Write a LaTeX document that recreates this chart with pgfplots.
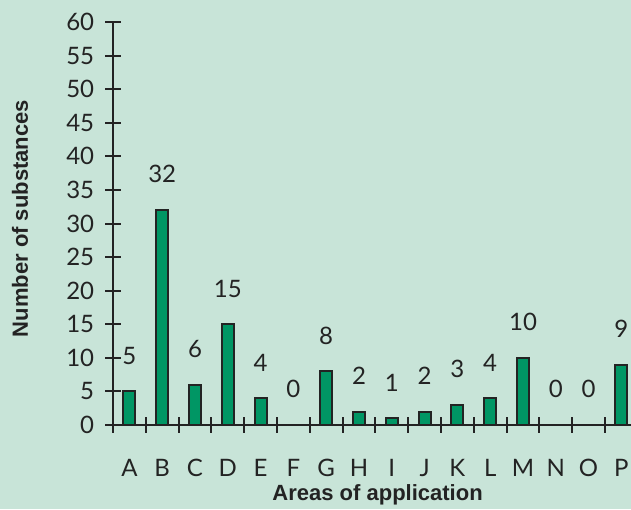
\documentclass[border=0pt]{standalone}
\usepackage{pgfplots}
\pgfplotsset{compat=1.18}
\usepackage{fontspec}
\setmainfont{Lato}
\newfontfamily\labelfont{Liberation Sans}
\definecolor{bg}{RGB}{200,228,216}
\definecolor{barc}{RGB}{0,150,100}
\definecolor{ink}{RGB}{35,35,35}
\begin{document}
\begin{tikzpicture}
\fill[bg] (-64.7pt,-42pt) rectangle (250.8pt,212.5pt);
\path[use as bounding box] (-64.7pt,-42pt) rectangle (250.8pt,212.5pt);
\begin{axis}[
  anchor=origin, at={(0pt,0pt)},
  x=16.4pt, y=3.358pt,
  xmin=-0.5, xmax=15.3, ymin=0, ymax=60,
  /pgf/number format/assume math mode=true,
  axis lines=left,
  axis line style={ink, line width=1pt, -},
  every tick/.style={ink, line width=1pt},
  tick align=center,
  major tick length=7.8pt,
  ytick={0,5,...,60},
  xtick={-0.5,0.5,...,14.5},
  xticklabels={},
  extra x ticks={0,1,...,15},
  extra x tick labels={A,B,C,D,E,F,G,H,I,J,K,L,M,N,O,P},
  extra x tick style={major tick length=0pt, xticklabel style={yshift=-13.5pt}},
  tick label style={font=\fontsize{12}{14}\selectfont, text=ink},
  yticklabel style={xshift=-2pt},
  xlabel={Areas of application},
  ylabel={Number of substances},
  xlabel style={font=\labelfont\bfseries\fontsize{11}{13}\selectfont, text=ink, at={(axis description cs:0.5106,-0.1737)}, anchor=center},
  ylabel style={font=\labelfont\bfseries\fontsize{11}{13}\selectfont, text=ink, at={(axis description cs:-0.1795,0.5124)}, anchor=center},
  clip=false,
]
\addplot[ybar, bar width=6pt, fill=barc, draw=ink, line width=1pt,
  nodes near coords,
  every node near coord/.append style={font=\fontsize{12}{14}\selectfont, text=ink, anchor=south, inner sep=0pt, yshift=13pt}]
  coordinates {(0,5) (1,32) (2,6) (3,15) (4,4) (5,0) (6,8) (7,2) (8,1) (9,2) (10,3) (11,4) (12,10) (13,0) (14,0) (15,9)};
\end{axis}
\end{tikzpicture}
\end{document}
